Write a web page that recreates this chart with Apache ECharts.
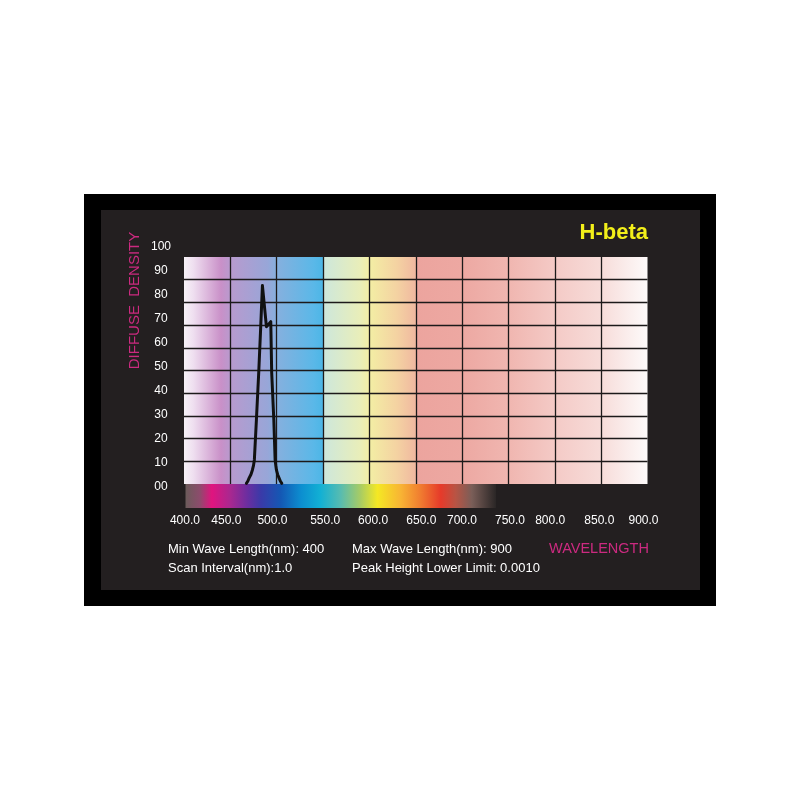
<!DOCTYPE html>
<html>
<head>
<meta charset="utf-8">
<script src="https://cdn.jsdelivr.net/npm/echarts@6/dist/echarts.min.js"></script>
<style>
html,body{margin:0;padding:0;background:#fff;}
#chart{width:800px;height:800px;}
</style>
</head>
<body>
<div id="chart"></div>
<script>
// ---- data ----
const curveX = [467.3, 468.8, 470.2, 472.2, 473.8, 475.0, 475.9, 478.1, 480.6, 482.6, 484.6, 488.9, 493.6, 494.6, 496.9, 498.3, 499.0, 499.7, 501.0, 502.6, 504.0, 505.5];
const curveY = [0.3, 1.2, 2.6, 4.2, 6.2, 8.2, 10.6, 28.2, 49, 67.8, 87.4, 69.3, 71.5, 49, 28.2, 10.6, 8.2, 6.2, 4.2, 2.6, 1.2, 0.3];
const xTickText = ['400.0','450.0','500.0','550.0','600.0','650.0','700.0','750.0','800.0','850.0','900.0'];
const xTickAt = [401, 445.7, 495.4, 552.3, 604, 656, 699.9, 751.7, 795, 848, 895.7];
const yTickText = ['00','10','20','30','40','50','60','70','80','90','100'];
const spectrumRange = [400, 735];
const infoLines = ['Min Wave Length(nm): 400','Max Wave Length(nm): 900','Scan Interval(nm):1.0','Peak Height Lower Limit: 0.0010'];

// ---- styles ----
const FONT = 'Liberation Sans, Arial, sans-serif';
const MAGENTA = '#cc2a80';
const bgStops = [
  [0.0,'#f7f2f7'],[0.02,'#efdff0'],[0.08,'#c990c8'],[0.1,'#b89ace'],
  [0.18,'#98a6d8'],[0.2,'#86b0de'],[0.28,'#5ab8e8'],[0.3,'#4cb6e6'],
  [0.3,'#cde7dc'],[0.38,'#e9eeb9'],[0.4,'#f3eea4'],[0.46,'#f4d2a2'],[0.5,'#f0b8a0'],
  [0.5,'#eca49e'],[0.6,'#eda8a2'],[0.7,'#f0b6b0'],[0.8,'#f4cac6'],[0.9,'#f7dcd9'],[1.0,'#fdfafa']
];
const specStops = [
  [0,'#6b5b5a'],[0.045,'#8c4c6c'],[0.085,'#e0147f'],[0.145,'#a82890'],[0.2,'#6a2ea0'],
  [0.243,'#3a3aa8'],[0.307,'#1458b4'],[0.372,'#0c8ed0'],[0.434,'#12b0d4'],[0.5,'#58bcb0'],
  [0.563,'#a8cc64'],[0.618,'#f4e824'],[0.693,'#f8b434'],[0.757,'#f07c30'],[0.822,'#e63a2a'],
  [0.87,'#b85444'],[0.922,'#7a5e58'],[1,'#2a2626']
];
const toStops = s => s.map(d => ({offset: d[0], color: d[1]}));

const chart = echarts.init(document.getElementById('chart'), null, {renderer:'canvas'});
const plotLeft = 184, plotWidth = 463.5;

const hiddenAxis = {axisLine:{show:false}, axisTick:{show:false}, splitLine:{show:false}, axisLabel:{show:false}};

chart.setOption({
  backgroundColor: '#ffffff',
  animation: false,
  graphic: [
    {type:'rect', z:-100, shape:{x:84, y:194, width:632, height:412}, style:{fill:'#000'}},
    {type:'rect', z:-99, shape:{x:101, y:210, width:599, height:380}, style:{fill:'#231f20'}},
    {type:'text', z:10, x:134.5, y:300.5, rotation:Math.PI/2,
     style:{text:'DIFFUSE  DENSITY', fill:MAGENTA, font:'15px ' + FONT, align:'center', verticalAlign:'middle'}}
  ],
  title: [
    {text:'H-beta', right:152, top:222, padding:0, textStyle:{color:'#f2ef1a', fontSize:22, fontWeight:'bold', fontFamily:FONT}},
    {text:infoLines[0], left:168, top:543, padding:0, textStyle:{color:'#fff', fontSize:13, fontWeight:'normal', fontFamily:FONT}},
    {text:infoLines[1], left:352, top:543, padding:0, textStyle:{color:'#fff', fontSize:13, fontWeight:'normal', fontFamily:FONT}},
    {text:infoLines[2], left:168, top:562, padding:0, textStyle:{color:'#fff', fontSize:13, fontWeight:'normal', fontFamily:FONT}},
    {text:infoLines[3], left:352, top:562, padding:0, textStyle:{color:'#fff', fontSize:13, fontWeight:'normal', fontFamily:FONT}},
    {text:'WAVELENGTH', left:549, top:541, padding:0, textStyle:{color:MAGENTA, fontSize:14.5, fontWeight:'normal', fontFamily:FONT}}
  ],
  grid: [
    {left:plotLeft, top:257, width:plotWidth, height:227, show:true, borderWidth:0,
     backgroundColor: new echarts.graphic.LinearGradient(0,0,1,0,toStops(bgStops))},
    {left:plotLeft, top:246.7, width:plotWidth, height:240},
    {left:plotLeft+1.5, top:484, width:plotWidth, height:24}
  ],
  xAxis: [
    {type:'value', gridIndex:0, min:400, max:900, interval:50,
     axisLine:{show:false}, axisTick:{show:false}, axisLabel:{show:false},
     splitLine:{show:true, showMinLine:false, showMaxLine:false, lineStyle:{color:'#1c1a1a', width:1.3}}},
    {type:'value', gridIndex:1, min:400, max:900,
     axisLine:{show:false}, axisTick:{show:false}, splitLine:{show:false},
     axisLabel:{show:true, customValues:xTickAt, margin:28, color:'#fff', fontSize:12, fontFamily:FONT,
       showMinLabel:true, showMaxLabel:true,
       formatter:function(v){ const i = xTickAt.findIndex(p => Math.abs(p - v) < 0.01); return i >= 0 ? xTickText[i] : ''; }}},
    Object.assign({type:'value', gridIndex:2, min:400, max:900}, hiddenAxis)
  ],
  yAxis: [
    {type:'value', gridIndex:0, min:0, max:100, interval:10,
     axisLine:{show:false}, axisTick:{show:false}, axisLabel:{show:false},
     splitLine:{show:true, showMinLine:false, showMaxLine:false, lineStyle:{color:'#1c1a1a', width:1.3}}},
    {type:'value', gridIndex:1, min:0, max:100, interval:10,
     axisLine:{show:false}, axisTick:{show:false}, splitLine:{show:false},
     axisLabel:{show:true, align:'center', margin:23, color:'#fff', fontSize:12, fontFamily:FONT,
       formatter:function(v){ return yTickText[Math.round(v/10)]; }}},
    Object.assign({type:'value', gridIndex:2, min:0, max:1}, hiddenAxis)
  ],
  series: [
    {type:'line', xAxisIndex:0, yAxisIndex:0, showSymbol:false, smooth:false, z:5,
     lineStyle:{color:'#111', width:3, join:'round', cap:'round'},
     data: curveX.map((x,i) => [x, curveY[i]])},
    {type:'custom', xAxisIndex:2, yAxisIndex:2, silent:true,
     data:[[spectrumRange[0], 0]],
     renderItem:function(params, api){
       const p0 = api.coord([spectrumRange[0], 1]);
       const p1 = api.coord([spectrumRange[1], 0]);
       return {type:'rect', shape:{x:p0[0], y:p0[1], width:p1[0]-p0[0], height:p1[1]-p0[1]},
               style:{fill:new echarts.graphic.LinearGradient(0,0,1,0,toStops(specStops))}};
     }}
  ]
});
</script>
</body>
</html>
